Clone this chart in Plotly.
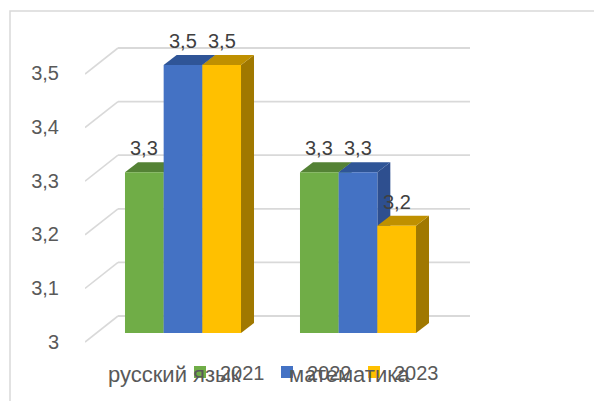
import plotly.graph_objects as go

# ---- data ----
categories = ["русский язык", "математика"]
years = ["2021", "2022", "2023"]
values_2021 = [3.3, 3.3]
values_2022 = [3.5, 3.3]
values_2023 = [3.5, 3.2]
y_ticks = [3.0, 3.1, 3.2, 3.3, 3.4, 3.5]

series = [values_2021, values_2022, values_2023]
front_colors = ["#70ad47", "#4472c4", "#ffc000"]
top_colors = ["#548235", "#2f5597", "#bf9000"]
side_colors = ["#4e7a31", "#2e4f8f", "#a07800"]

W, H = 602, 401
OFF = 8  # page body margin compensation
def fx(p):
    return (p - OFF) / W
def fy(p):
    return 1 - (p - OFF) / H

BARGAP = 0.337
bw = (1 - BARGAP) / 3
ymin = y_ticks[0]

# bar subplot (x3/y3): 175 px per category, 536 px per value unit
PXC = 175.0
PXU_BAR = 536.0
X_LEFT, X_RIGHT, CAT0 = 85, 480, 183.0
Y_BOTTOM, Y_TOP, BASE_PX = 350, 20, 333
x_range = [(X_LEFT - CAT0) / PXC, (X_RIGHT - CAT0) / PXC]
y_range = [ymin - (Y_BOTTOM - BASE_PX) / PXU_BAR, ymin + (BASE_PX - Y_TOP) / PXU_BAR]

def cx(p):  # pixel column -> category units
    return (p - CAT0) / PXC

dx = 13 / PXC            # bar depth offset (category units)
dy = 10 / PXU_BAR        # bar depth offset (value units)
wall_dy = 17 / PXU_BAR   # back wall offset above bar front
front_dy = -9 / PXU_BAR  # floor front edge offset

# label axis (x2/y2): front plane, 538 px per unit
PXU = 538.0
pad = 0.01
lab_range = [y_ticks[0] - pad, y_ticks[-1] + pad]

fig = go.Figure()

fig.add_trace(go.Scatter(x=[], y=[], xaxis="x2", yaxis="y2", showlegend=False,
                         hoverinfo="skip"))

# bars (start at the axis minimum)
for k, (yr, vals) in enumerate(zip(years, series)):
    fig.add_trace(go.Bar(
        x=list(range(len(categories))), y=[v - ymin for v in vals], base=ymin,
        name=yr, customdata=vals,
        marker=dict(color=front_colors[k], line=dict(width=0)),
        xaxis="x3", yaxis="y3", hoverinfo="skip",
    ))

shapes = []
annotations = []

# chart border
shapes.append(dict(type="rect", xref="paper", yref="paper",
                   x0=fx(10), x1=1.05, y0=fy(11), y1=-0.05,
                   line=dict(color="#d9d9d9", width=1.5), fillcolor="rgba(0,0,0,0)",
                   layer="below"))

# back wall gridlines and floor diagonals
for t in y_ticks:
    shapes.append(dict(type="line", xref="x3", yref="y3",
                       x0=cx(118), x1=cx(470), y0=t + wall_dy, y1=t + wall_dy,
                       line=dict(color="#d9d9d9", width=1.8), layer="below"))
    shapes.append(dict(type="line", xref="x3", yref="y3",
                       x0=cx(85), x1=cx(118), y0=t + front_dy, y1=t + wall_dy,
                       line=dict(color="#d9d9d9", width=1.6), layer="below"))

# 3D faces of bars
for i in range(len(categories)):
    for k, vals in enumerate(series):
        v = vals[i]
        c = i + (k - 1) * bw
        xl, xr = c - bw / 2, c + bw / 2
        top = f"M {xl},{v} L {xr},{v} L {xr+dx},{v+dy} L {xl+dx},{v+dy} Z"
        side = f"M {xr},{ymin} L {xr+dx},{ymin+dy} L {xr+dx},{v+dy} L {xr},{v} Z"
        shapes.append(dict(type="path", xref="x3", yref="y3", path=side,
                           fillcolor=side_colors[k], line=dict(width=0), layer="below"))
        shapes.append(dict(type="path", xref="x3", yref="y3", path=top,
                           fillcolor=top_colors[k], line=dict(width=0), layer="below"))
        annotations.append(dict(xref="x3", yref="y3", x=c, y=v, yshift=24,
                                text=f"{v:.1f}".replace(".", ","), showarrow=False,
                                font=dict(size=20, color="#404040"),
                                xanchor="center", yanchor="middle"))

# category labels
for i, name in enumerate(categories):
    annotations.append(dict(xref="x3", yref="paper", x=i, xshift=-9, y=fy(374),
                            text=name, showarrow=False,
                            font=dict(size=22, color="#595959"),
                            xanchor="center", yanchor="middle"))

def tick_text(t):
    s = f"{t:.1f}".replace(".", ",")
    return s[:-2] if s.endswith(",0") else s

fig.update_layout(
    width=W, height=H,
    margin=dict(l=0, r=0, t=0, b=0, pad=0, autoexpand=False),
    paper_bgcolor="white", plot_bgcolor="rgba(0,0,0,0)",
    font=dict(family="Liberation Sans", size=20, color="#595959"),
    barmode="group", bargap=BARGAP, bargroupgap=0,
    showlegend=True,
    legend=dict(orientation="h", x=fx(180), xanchor="left", y=fy(372), yanchor="middle",
                font=dict(size=20, color="#595959"), bgcolor="rgba(0,0,0,0)",
                entrywidth=42, entrywidthmode="pixels", itemwidth=30),
    # front label plane (tick labels only)
    xaxis2=dict(domain=[fx(85), fx(118)], range=[0, 1], visible=False, anchor="y2",
                fixedrange=True, automargin=False),
    yaxis2=dict(domain=[fy(342 + pad * PXU), fy(73 - pad * PXU)], range=lab_range,
                anchor="x2", tickvals=y_ticks, ticktext=[tick_text(t) for t in y_ticks],
                ticks="outside", ticklen=21, tickcolor="rgba(0,0,0,0)",
                showgrid=False, zeroline=False, showline=False, automargin=False,
                tickfont=dict(size=20, color="#595959"), fixedrange=True),
    # bars
    xaxis3=dict(domain=[fx(X_LEFT), fx(X_RIGHT)], range=x_range, anchor="y3",
                visible=False, fixedrange=True, automargin=False),
    yaxis3=dict(domain=[fy(Y_BOTTOM), fy(Y_TOP)], range=y_range, anchor="x3",
                visible=False, fixedrange=True, automargin=False),
    shapes=shapes,
    annotations=annotations,
)

fig.write_html("out.html")
